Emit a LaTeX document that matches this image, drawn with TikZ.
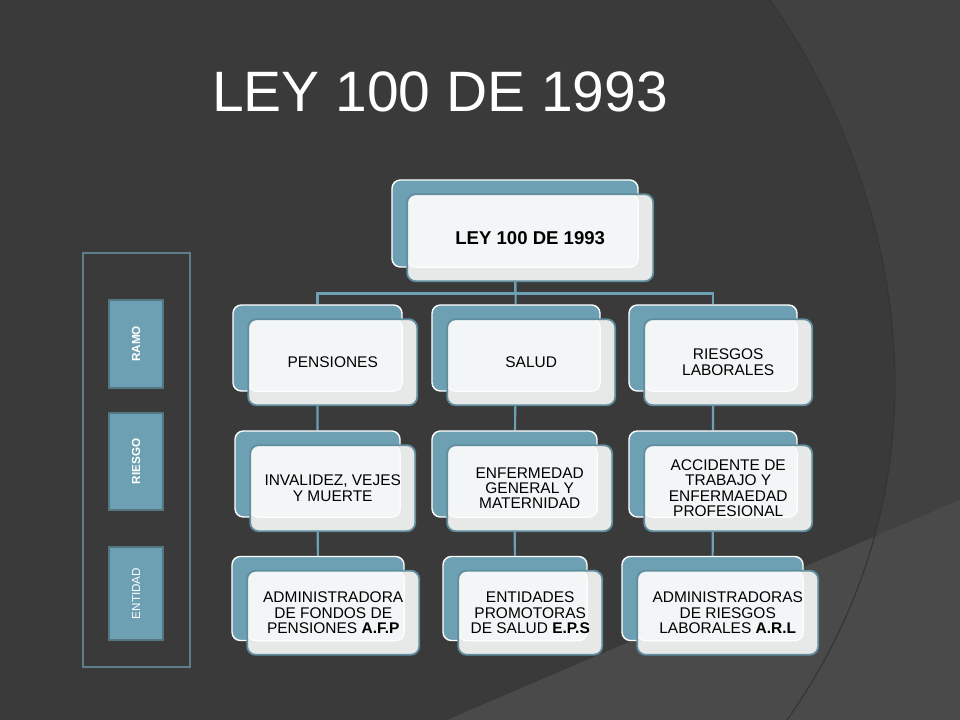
\documentclass[tikz,border=0pt]{standalone}
\usepackage{fontspec}
\setmainfont{Liberation Sans}
\usepackage{tikz}
\usetikzlibrary{positioning}
\definecolor{slide}{RGB}{58,58,58}
\definecolor{slidelight}{RGB}{65,65,65}
\definecolor{slidelow}{RGB}{74,74,74}
\definecolor{slideedge}{RGB}{53,53,53}
\definecolor{cardteal}{RGB}{108,160,178}
\definecolor{cardedge}{RGB}{96,142,158}
\definecolor{cardfront}{RGB}{231,232,232}
\definecolor{cardhi}{RGB}{242,246,247}
\definecolor{panel}{RGB}{95,126,138}
\definecolor{tagedge}{RGB}{84,118,130}
\tikzstyle{back} = [rectangle, rounded corners=6pt, fill=cardteal, draw=white,
                line width=1pt, inner sep=0pt]
\tikzstyle{front} = [rectangle, rounded corners=6pt, fill=cardfront, draw=cardedge,
                line width=1.3pt, inner sep=0pt, anchor=north west, align=center,
                font=\fontsize{11}{10.8}\selectfont,
                path picture={\filldraw[fill=cardhi, draw=white, line width=0.8pt, rounded corners=6pt]
                  (path picture bounding box.north west) rectangle
                  ([shift={(-0.375cm,0.35cm)}]path picture bounding box.south east);}]
\tikzstyle{line} = [draw, cardteal, line width=1.5pt]
\tikzstyle{tag} = [rectangle, fill=cardteal, draw=tagedge, line width=1pt, rotate=90,
                text=white, minimum height=1.35cm, font=\fontsize{8.3}{10}\selectfont]
\pgfdeclarelayer{bg}
\pgfdeclarelayer{wires}
\pgfsetlayers{bg,wires,main}

\begin{document}
\begin{tikzpicture}[x=0.025cm, y=-0.025cm]
            \useasboundingbox (0,0) rectangle (960,720);
            \begin{pgfonlayer}{bg}
            \fill[slide] (0,0) rectangle (960,720);
            \fill[slidelight] (770,0) .. controls (890,170) and (970,460) .. (787,720) -- (960,720) -- (960,0) -- cycle;
            \fill[slidelow] (447,720) -- (960,500) -- (960,720) -- cycle;
            \draw[slideedge, line width=0.8pt] (770,0) .. controls (890,170) and (970,460) .. (787,720);
            \fill[slidelight] (833,0) rectangle (960,3);
            \end{pgfonlayer}
            \node[text=white, font=\fontsize{40.5}{48}\selectfont, anchor=base](title) at (440,112){LEY 100 DE 1993};
            % cards
            \node[back, minimum width=6.15cm, minimum height=2.175cm](ley) at (515,223.5){};
            \node[front, minimum width=6.15cm, minimum height=2.175cm, font=\fontsize{13.2}{14}\selectfont\bfseries](leytxt) at ([shift={(15,14)}]ley.north west){LEY 100 DE 1993};
            \node[back, minimum width=4.225cm, minimum height=2.15cm](pensiones) at (317.5,348){};
            \node[front, minimum width=4.225cm, minimum height=2.15cm](pensionestxt) at ([shift={(15,14)}]pensiones.north west){PENSIONES};
            \node[back, minimum width=4.2cm, minimum height=2.15cm](salud) at (516,348){};
            \node[front, minimum width=4.2cm, minimum height=2.15cm](saludtxt) at ([shift={(15,14)}]salud.north west){SALUD};
            \node[back, minimum width=4.2cm, minimum height=2.15cm](riesgos) at (713,348){};
            \node[front, minimum width=4.2cm, minimum height=2.15cm](riesgostxt) at ([shift={(15,14)}]riesgos.north west){RIESGOS\\LABORALES};
            \node[back, minimum width=4.125cm, minimum height=2.15cm](invalidez) at (317.5,474){};
            \node[front, minimum width=4.125cm, minimum height=2.15cm](invalideztxt) at ([shift={(15,14)}]invalidez.north west){INVALIDEZ, VEJES\\Y MUERTE};
            \node[back, minimum width=4.125cm, minimum height=2.15cm](enfermedad) at (514.5,474){};
            \node[front, minimum width=4.125cm, minimum height=2.15cm](enfermedadtxt) at ([shift={(15,14)}]enfermedad.north west){ENFERMEDAD\\GENERAL Y\\MATERNIDAD};
            \node[back, minimum width=4.2cm, minimum height=2.15cm](accidente) at (713,474){};
            \node[front, minimum width=4.2cm, minimum height=2.15cm](accidentetxt) at ([shift={(15,14)}]accidente.north west){ACCIDENTE DE\\TRABAJO Y\\ENFERMAEDAD\\PROFESIONAL};
            \node[back, minimum width=4.3cm, minimum height=2.1cm](afp) at (318,598.5){};
            \node[front, minimum width=4.3cm, minimum height=2.1cm](afptxt) at ([shift={(15,14)}]afp.north west){ADMINISTRADORA\\DE FONDOS DE\\PENSIONES \textbf{A.F.P}};
            \node[back, minimum width=3.6cm, minimum height=2.1cm](eps) at (515,598.5){};
            \node[front, minimum width=3.6cm, minimum height=2.1cm](epstxt) at ([shift={(15,14)}]eps.north west){ENTIDADES\\PROMOTORAS\\DE SALUD \textbf{E.P.S}};
            \node[back, minimum width=4.525cm, minimum height=2.1cm](arl) at (712.5,598.5){};
            \node[front, minimum width=4.525cm, minimum height=2.1cm](arltxt) at ([shift={(15,14)}]arl.north west){ADMINISTRADORAS\\DE RIESGOS\\LABORALES \textbf{A.R.L}};
            % side panel
            \node[draw=panel, line width=1.2pt, minimum width=2.675cm, minimum height=10.35cm](panel) at (136.5,460){};
            \node[tag, minimum width=2.2cm, font=\fontsize{8.3}{10}\selectfont\bfseries](ramo) at (136,344){RAMO};
            \node[tag, minimum width=2.425cm, font=\fontsize{8.3}{10}\selectfont\bfseries](riesgo) at (136,461.5){RIESGO};
            \node[tag, minimum width=2.325cm](entidad) at (136,593.5){ENTIDAD};
            \begin{pgfonlayer}{wires}
            \path[line] (ley) -- ++(0,70) -| (pensiones);
            \path[line] (ley) -- ++(0,70) -| (riesgos);
            \path[line] (ley) -- (salud);
            \path[line] (pensiones) -- (invalidez) -- (afp);
            \path[line] (salud) -- (enfermedad) -- (eps);
            \path[line] (riesgos) -- (accidente) -- (arl);
            \end{pgfonlayer}
        \end{tikzpicture}
\end{document}
